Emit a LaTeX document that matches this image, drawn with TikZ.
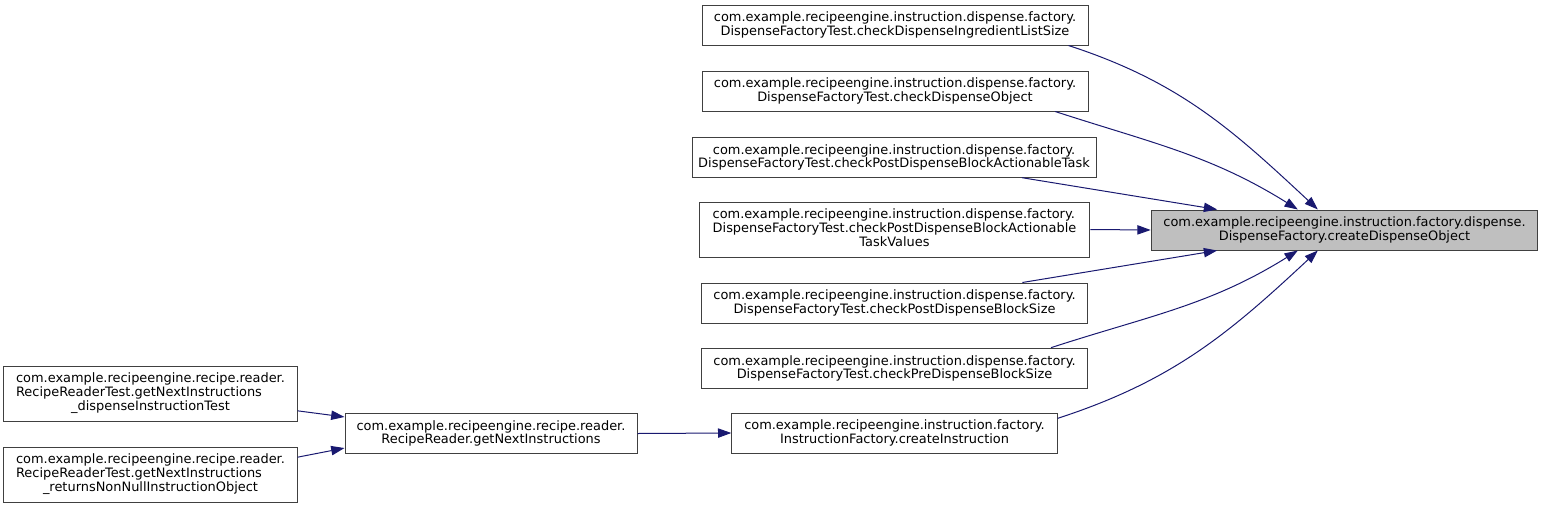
\documentclass[tikz,border=0pt]{standalone}
\usepackage{fontspec}
\setmainfont{DejaVu Sans}
\usetikzlibrary{arrows.meta}
\definecolor{edgeBlue}{HTML}{191970}
\definecolor{boxGrey}{HTML}{404040}
\definecolor{targetGrey}{HTML}{BFBFBF}
%% Two lines set flush left, the last one centred.
\newcommand{\threeLine}[3]{%%
  \begin{tabular}{@{}l@{}}#1\\#2\\\multicolumn{1}{@{}c@{}}{#3}\end{tabular}%%
}
\begin{document}
\begin{tikzpicture}[%%
  x=0.75pt,y=-0.75pt,%%
  boxStyle/.style={draw=boxGrey,fill=white,line width=0.75pt,inner sep=0pt,align=center,font=\fontsize{9.7}{10}\selectfont},%%
  targetStyle/.style={boxStyle,fill=targetGrey},%%
  edgeStyle/.style={draw=edgeBlue,line width=0.75pt,-{Triangle[length=10pt,width=7pt]}}
]
\useasboundingbox (0,0) rectangle (1544,507);
%%
%% The function that is called.
\node[targetStyle,minimum width=290pt,minimum height=30pt] (createDispense) at (1344.5,230)
  {com.example.recipeengine.instruction.factory.dispense.\\DispenseFactory.createDispenseObject};
%%
%% Its callers.
\node[boxStyle,minimum width=289.5pt,minimum height=30pt] (checkListSize) at (895,25)
  {com.example.recipeengine.instruction.dispense.factory.\\DispenseFactoryTest.checkDispenseIngredientListSize};
\node[boxStyle,minimum width=289.5pt,minimum height=30pt] (checkObject) at (895,91)
  {com.example.recipeengine.instruction.dispense.factory.\\DispenseFactoryTest.checkDispenseObject};
\node[boxStyle,minimum width=303pt,minimum height=29.5pt] (checkTask) at (894,157.5)
  {com.example.recipeengine.instruction.dispense.factory.\\DispenseFactoryTest.checkPostDispenseBlockActionableTask};
\node[boxStyle,minimum width=293pt,minimum height=41.25pt] (checkTaskValues) at (894.5,229.5)
  {\threeLine{com.example.recipeengine.instruction.dispense.factory.}{DispenseFactoryTest.checkPostDispenseBlockActionable}{TaskValues}};
\node[boxStyle,minimum width=289pt,minimum height=30pt] (checkPostSize) at (894.5,303)
  {com.example.recipeengine.instruction.dispense.factory.\\DispenseFactoryTest.checkPostDispenseBlockSize};
\node[boxStyle,minimum width=289pt,minimum height=30.5pt] (checkPreSize) at (894.5,368.5)
  {com.example.recipeengine.instruction.dispense.factory.\\DispenseFactoryTest.checkPreDispenseBlockSize};
\node[boxStyle,minimum width=244pt,minimum height=30pt] (createInstr) at (894.5,433)
  {com.example.recipeengine.instruction.factory.\\InstructionFactory.createInstruction};
%%
%% The reader and its tests.
\node[boxStyle,minimum width=219pt,minimum height=30.5pt] (getNext) at (491,433.5)
  {com.example.recipeengine.recipe.reader.\\RecipeReader.getNextInstructions};
\node[boxStyle,minimum width=220pt,minimum height=41.25pt] (testDispense) at (150.5,393.5)
  {\threeLine{com.example.recipeengine.recipe.reader.}{RecipeReaderTest.getNextInstructions}{\_dispenseInstructionTest}};
\node[boxStyle,minimum width=220pt,minimum height=41.25pt] (testNonNull) at (150.5,474.5)
  {\threeLine{com.example.recipeengine.recipe.reader.}{RecipeReaderTest.getNextInstructions}{\_returnsNonNullInstructionObject}};
%%
%% The calls.
\draw[edgeStyle] ([xshift=-15pt]checkListSize.south east) to[out=-18,in=137] ([xshift=-20pt]createDispense.north);
\draw[edgeStyle] ([xshift=-25pt]checkObject.south east) to[out=-18,in=148] ([xshift=-35pt]createDispense.north);
\draw[edgeStyle] ([xshift=-56pt]checkTask.south east) -- ([xshift=-95.5pt]createDispense.north);
\draw[edgeStyle] (checkTaskValues.east) -- (createDispense.west);
\draw[edgeStyle] ([xshift=-49pt]checkPostSize.north east) -- ([xshift=-95.5pt]createDispense.south);
\draw[edgeStyle] ([xshift=-27.5pt]checkPreSize.north east) to[out=18,in=-148] ([xshift=-35pt]createDispense.south);
\draw[edgeStyle] ([yshift=11pt]createInstr.east) to[out=18,in=-137] ([xshift=-20pt]createDispense.south);
\draw[edgeStyle] (getNext.east) -- (createInstr.west);
\draw[edgeStyle] ([yshift=-13pt]testDispense.east) -- ([yshift=12.4pt]getNext.west);
\draw[edgeStyle] ([yshift=13pt]testNonNull.east) -- ([yshift=-10.9pt]getNext.west);
\end{tikzpicture}
\end{document}
